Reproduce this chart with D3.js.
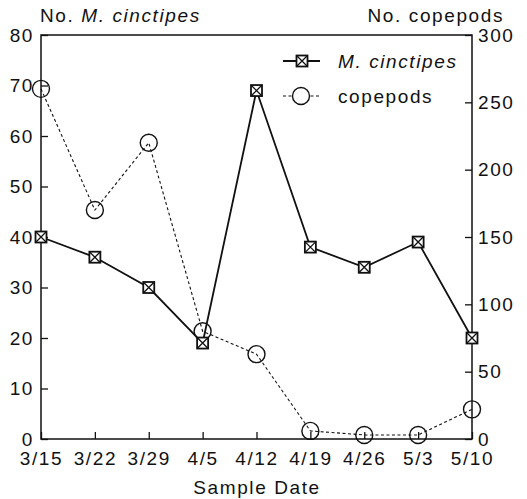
<!DOCTYPE html>
<html>
<head>
<meta charset="utf-8">
<script src="https://cdn.jsdelivr.net/npm/d3@7"></script>
<style>
  body { margin: 0; background: #fff; }
  text { font-family: "Liberation Sans", Arial, sans-serif; fill: #111; }
</style>
</head>
<body>
<svg id="chart" width="527" height="499"></svg>
<script>
// sample dates and counts
const dates = ["3/15", "3/22", "3/29", "4/5", "4/12", "4/19", "4/26", "5/3", "5/10"];
const cinctipes = [40, 36, 30, 19, 69, 38, 34, 39, 20];
const copepods = [260, 170, 220, 80, 63, 6, 3, 3, 22];
const leftTicks = [0, 10, 20, 30, 40, 50, 60, 70, 80];
const rightTicks = [0, 50, 100, 150, 200, 250, 300];

const margin = { left: 41, right: 55, top: 35, bottom: 60 };
const W = 527, H = 499;
const fs = "19px";
const ls = "1.6px";

const svg = d3.select("#chart");

const x = d3.scalePoint().domain(dates).range([margin.left, W - margin.right]);
const yL = d3.scaleLinear().domain([0, 80]).range([H - margin.bottom, margin.top]);
const yR = d3.scaleLinear().domain([0, 300]).range([H - margin.bottom, margin.top]);

// frame
svg.append("rect")
  .attr("x", margin.left).attr("y", margin.top)
  .attr("width", W - margin.right - margin.left)
  .attr("height", H - margin.bottom - margin.top)
  .attr("fill", "none").attr("stroke", "#111").attr("stroke-width", 1.5);

// axes, ticks point inward
const xAxis = d3.axisBottom(x).tickSizeInner(-7).tickSizeOuter(0).tickPadding(13);
const gx = svg.append("g").attr("transform", `translate(0,${H - margin.bottom})`).call(xAxis);

const gl = svg.append("g").attr("transform", `translate(${margin.left},0)`)
  .call(d3.axisLeft(yL).tickValues(leftTicks).tickSizeInner(-7).tickSizeOuter(0).tickPadding(7));

const gr = svg.append("g").attr("transform", `translate(${W - margin.right},0)`)
  .call(d3.axisRight(yR).tickValues(rightTicks).tickSizeInner(-7).tickSizeOuter(0).tickPadding(6));

[gx, gl, gr].forEach(g => {
  g.select(".domain").remove();
  g.selectAll(".tick line").attr("stroke", "#111").attr("stroke-width", 1.3);
  g.selectAll(".tick text").attr("font-size", fs).attr("letter-spacing", ls)
    .attr("font-family", "Liberation Sans, Arial, sans-serif").attr("fill", "#111");
});

// copepods: dotted line with open circles
const lineR = d3.line().x((d, i) => x(dates[i])).y(d => yR(d));
svg.append("path").datum(copepods)
  .attr("d", lineR).attr("fill", "none")
  .attr("stroke", "#111").attr("stroke-width", 1.1).attr("stroke-dasharray", "3,2.5");

svg.selectAll(".cop").data(copepods).enter().append("circle")
  .attr("cx", (d, i) => x(dates[i])).attr("cy", d => yR(d))
  .attr("r", 8.5).attr("fill", "none").attr("stroke", "#111").attr("stroke-width", 1.4);

// M. cinctipes: solid line with crossed squares
const lineL = d3.line().x((d, i) => x(dates[i])).y(d => yL(d));
svg.append("path").datum(cinctipes)
  .attr("d", lineL).attr("fill", "none")
  .attr("stroke", "#111").attr("stroke-width", 1.8);

function crossSquare(g, cx, cy, s) {
  g.append("rect").attr("x", cx - s / 2).attr("y", cy - s / 2)
    .attr("width", s).attr("height", s)
    .attr("fill", "#fff").attr("stroke", "#111").attr("stroke-width", 1.8);
  g.append("path")
    .attr("d", `M${cx - s / 2},${cy - s / 2}L${cx + s / 2},${cy + s / 2}M${cx + s / 2},${cy - s / 2}L${cx - s / 2},${cy + s / 2}`)
    .attr("stroke", "#111").attr("stroke-width", 1.3);
}

const marks = svg.append("g");
cinctipes.forEach((d, i) => crossSquare(marks, x(dates[i]), yL(d), 11));

// legend
const lg = svg.append("g");
lg.append("line").attr("x1", 283).attr("x2", 320).attr("y1", 61).attr("y2", 61)
  .attr("stroke", "#111").attr("stroke-width", 1.8);
crossSquare(lg, 302, 61, 11);
lg.append("text").attr("x", 338).attr("y", 68).attr("font-size", fs).attr("letter-spacing", ls)
  .attr("font-style", "italic").text("M. cinctipes");

lg.append("line").attr("x1", 283).attr("x2", 320).attr("y1", 96).attr("y2", 96)
  .attr("stroke", "#111").attr("stroke-width", 1.1).attr("stroke-dasharray", "3,2.5");
lg.append("circle").attr("cx", 301).attr("cy", 96).attr("r", 8.5)
  .attr("fill", "#fff").attr("stroke", "#111").attr("stroke-width", 1.4);
lg.append("text").attr("x", 338).attr("y", 103).attr("font-size", fs).attr("letter-spacing", ls)
  .text("copepods");

// axis titles
const t1 = svg.append("text").attr("x", 40).attr("y", 22).attr("font-size", fs).attr("letter-spacing", ls);
t1.append("tspan").text("No. ");
t1.append("tspan").attr("font-style", "italic").text("M. cinctipes");

svg.append("text").attr("x", 504).attr("y", 22).attr("text-anchor", "end")
  .attr("font-size", fs).attr("letter-spacing", ls).text("No. copepods");

svg.append("text").attr("x", 257).attr("y", 494).attr("text-anchor", "middle")
  .attr("font-size", fs).attr("letter-spacing", ls).text("Sample Date");
</script>
</body>
</html>
